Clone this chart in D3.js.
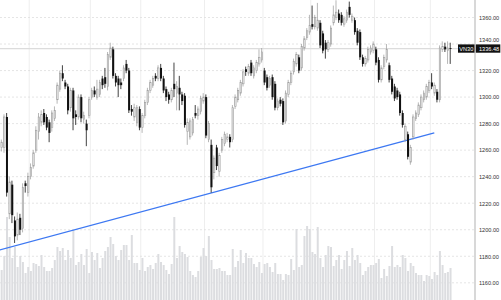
<!DOCTYPE html>
<html>
<head>
<meta charset="utf-8">
<script src="https://cdn.jsdelivr.net/npm/d3@7"></script>
<style>
  html, body { margin: 0; padding: 0; background: #fff; }
  #container { width: 501px; height: 300px; overflow: hidden; }
</style>
</head>
<body>
<div id="container"></div>
<script>
// VN30 daily candles
const opens = [1262,1262,1285,1212,1234,1207,1196,1209,1201,1235,1228,1240,1248,1260,1274,1281,1288,1285,1281,1277,
  1284,1298,1306,1318,1311,1308,1292,1305,1287,1285,1300,1283,1280,1286,1300,1305,1300,1302,1314,1315,
  1308,1330,1336,1316,1314,1311,1314,1325,1320,1291,1285,1281,1291,1277,1286,1296,1305,1309,1316,1314,
  1322,1314,1306,1302,1298,1310,1303,1307,1302,1301,1274,1270,1273,1288,1286,1289,1297,1300,1268,1264,
  1243,1262,1244,1260,1265,1268,1270,1268,1293,1298,1303,1310,1321,1318,1326,1316,1320,1325,1328,1320,
  1315,1309,1315,1310,1292,1298,1297,1282,1302,1311,1319,1325,1330,1322,1337,1345,1349,1355,1353,1352,
  1356,1348,1341,1336,1340,1356,1360,1363,1362,1355,1358,1368,1358,1358,1350,1349,1330,1325,1328,1334,
  1335,1336,1328,1313,1323,1328,1324,1314,1308,1305,1302,1288,1268,1272,1251,1270,1284,1287,1292,1298,
  1300,1305,1311,1303,1304,1298,1336,1338,1335,1337];
const highs = [1268,1287,1288,1240,1237,1210,1213,1212,1235,1237,1243,1250,1260,1278,1288,1290,1291,1287,1283,1290,
  1293,1311,1320,1324,1313,1310,1307,1307,1290,1302,1302,1289,1283,1300,1307,1308,1313,1313,1316,1322,
  1334,1341,1338,1318,1316,1314,1324,1328,1322,1294,1295,1294,1293,1288,1298,1307,1313,1316,1318,1324,
  1325,1316,1308,1304,1307,1326,1312,1316,1304,1303,1284,1284,1285,1294,1293,1301,1303,1302,1282,1268,
  1256,1264,1258,1270,1274,1273,1272,1294,1302,1307,1313,1321,1323,1325,1328,1324,1328,1336,1337,1322,
  1317,1316,1317,1312,1299,1300,1299,1305,1313,1320,1329,1334,1332,1340,1346,1352,1362,1369,1362,1371,
  1358,1350,1343,1343,1354,1369,1373,1366,1364,1361,1366,1372,1363,1360,1352,1351,1332,1331,1338,1339,
  1342,1338,1330,1324,1332,1340,1326,1316,1310,1307,1304,1290,1280,1274,1264,1287,1290,1296,1302,1305,
  1310,1313,1318,1311,1306,1339,1342,1341,1342,1341];
const lows = [1259,1258,1225,1208,1205,1190,1192,1196,1198,1228,1225,1238,1246,1258,1268,1278,1279,1275,1266,1274,
  1282,1295,1304,1312,1306,1287,1289,1275,1279,1283,1281,1280,1263,1284,1298,1300,1298,1300,1306,1307,
  1305,1328,1314,1308,1300,1306,1312,1318,1288,1286,1282,1278,1275,1273,1284,1294,1303,1307,1312,1312,
  1312,1303,1297,1295,1296,1300,1290,1290,1294,1277,1264,1268,1271,1284,1283,1287,1295,1269,1266,1228,
  1238,1245,1240,1258,1263,1266,1262,1266,1291,1296,1301,1308,1316,1316,1316,1314,1318,1323,1326,1309,
  1305,1307,1298,1290,1290,1293,1279,1280,1300,1309,1317,1323,1318,1320,1335,1343,1347,1351,1351,1350,
  1337,1333,1329,1334,1338,1354,1358,1356,1354,1353,1356,1360,1356,1347,1339,1328,1323,1323,1326,1332,
  1333,1324,1311,1311,1321,1326,1311,1302,1297,1298,1286,1277,1266,1253,1249,1268,1282,1285,1290,1296,
  1298,1303,1306,1301,1296,1296,1334,1334,1325,1325];
const closes = [1266,1285,1228,1236,1211,1195,1208,1200,1232,1233,1240,1247,1258,1275,1285,1287,1281,1277,1273,1288,
  1290,1309,1318,1314,1308,1290,1305,1284,1285,1300,1284,1286,1275,1298,1305,1302,1306,1311,1309,1310,
  1332,1337,1316,1311,1309,1309,1322,1320,1290,1289,1292,1292,1277,1286,1296,1305,1311,1314,1314,1322,
  1314,1305,1300,1298,1305,1306,1308,1302,1297,1279,1281,1282,1283,1286,1291,1299,1300,1271,1280,1232,
  1254,1248,1256,1268,1272,1270,1266,1292,1300,1305,1311,1319,1319,1323,1318,1322,1326,1330,1334,1311,
  1307,1314,1300,1292,1297,1295,1281,1303,1311,1318,1327,1332,1320,1338,1344,1350,1354,1353,1360,1358,
  1339,1335,1336,1341,1352,1362,1364,1358,1356,1359,1364,1362,1361,1349,1341,1330,1325,1329,1336,1337,
  1340,1326,1313,1322,1330,1336,1313,1304,1299,1300,1288,1279,1278,1255,1262,1285,1288,1294,1300,1303,
  1308,1311,1308,1309,1298,1337,1338,1336,1337,1336.48];
const volumes = [60,88,166,126,84,106,66,88,76,54,66,58,74,72,68,90,66,58,58,64,80,106,98,104,80,100,84,140,70,76,
  92,70,102,54,96,80,94,64,84,98,106,126,112,88,80,100,110,
  110,80,130,74,74,60,84,58,66,70,62,74,92,76,70,60,52,72,166,84,108,96,92,86,58,50,46,58,86,104,
  88,128,80,62,62,64,58,58,50,50,102,66,78,100,74,94,84,
  84,72,66,76,54,72,74,66,56,74,52,52,40,52,50,82,60,142,66,70,128,148,142,96,92,146,84,66,90,108,
  106,68,80,90,62,80,98,68,104,80,90,74,50,58,66,70,70,
  74,82,44,62,48,68,108,66,70,66,90,84,58,74,68,54,50,50,38,50,48,42,56,50,98,70,54,56,64];

const priceTicks = [1160, 1180, 1200, 1220, 1240, 1260, 1280, 1300, 1320, 1340, 1360];
const monthStarts = [11, 34, 53, 77, 99, 117, 141, 162];
const trendLine = [[-1, 1184.5], [163, 1273]];
const symbol = "VN30";
const lastPrice = 1336.48;

function renderChart() {
    const width = 501;
    const height = 300;
    const axisX = 475;

    const records = opens.map((o, i) => ({i: i, open: o, high: highs[i], low: lows[i], close: closes[i], volume: volumes[i]}));

    const x = d3.scaleBand()
        .domain(d3.range(records.length))
        .range([0, records.length * 2.66])
        .padding(0.25);

    const xc = i => x.step() * (i + 0.5);

    const y = d3.scaleLinear([1160, 1360], [282.8, 17.5]);
    const yVol = d3.scaleLinear([0, 200], [height, 200]);

    const svg = d3.create("svg")
        .attr("width", width)
        .attr("height", height)
        .attr("viewBox", [0, 0, width, height])
        .style("display", "block")
        .style("font-family", "'Liberation Sans', Arial, sans-serif");

    svg.append("rect").attr("width", width).attr("height", height).attr("fill", "#fff");

    // vertical grid (month boundaries)
    svg.append("g")
        .selectAll("line")
        .data(monthStarts)
        .join("line")
        .attr("x1", d => x.step() * d)
        .attr("x2", d => x.step() * d)
        .attr("y1", 0)
        .attr("y2", height)
        .attr("stroke", "#eeeeee")
        .attr("stroke-width", 1);

    // horizontal dotted grid
    svg.append("g")
        .selectAll("line")
        .data(priceTicks)
        .join("line")
        .attr("x1", 0)
        .attr("x2", axisX)
        .attr("y1", d => y(d))
        .attr("y2", d => y(d))
        .attr("stroke", "#dedede")
        .attr("stroke-dasharray", "2,2")
        .attr("stroke-width", 0.8);

    // volume bars
    svg.append("g")
        .selectAll("rect")
        .data(records)
        .join("rect")
        .attr("x", d => x(d.i))
        .attr("width", x.bandwidth())
        .attr("y", d => yVol(d.volume))
        .attr("height", d => height - yVol(d.volume))
        .attr("fill", "#dcdde0");

    // last price line
    svg.append("line")
        .attr("x1", 0)
        .attr("x2", axisX)
        .attr("y1", y(lastPrice))
        .attr("y2", y(lastPrice))
        .attr("stroke", "#dcdcdc")
        .attr("stroke-width", 1.3);

    // trend line
    const line = d3.line().x(d => xc(d[0])).y(d => y(d[1]));
    svg.append("path")
        .attr("fill", "none")
        .attr("stroke", "#3d78f2")
        .attr("stroke-width", 1.3)
        .attr("d", line(trendLine));

    // candles
    const candle = svg.append("g")
        .selectAll("g")
        .data(records)
        .join("g");

    candle.append("line")
        .attr("x1", d => xc(d.i))
        .attr("x2", d => xc(d.i))
        .attr("y1", d => y(d.high))
        .attr("y2", d => y(d.low))
        .attr("stroke", d => d.close >= d.open ? "#a5a5a5" : "#111")
        .attr("stroke-width", 0.8);

    candle.append("rect")
        .attr("x", d => d.close >= d.open ? x(d.i) + 0.3 : x(d.i))
        .attr("width", d => d.close >= d.open ? x.bandwidth() - 0.6 : x.bandwidth())
        .attr("y", d => y(Math.max(d.open, d.close)))
        .attr("height", d => Math.max(0.8, Math.abs(y(d.open) - y(d.close))))
        .attr("fill", d => d.close >= d.open ? "#ececec" : "#111")
        .attr("stroke", d => d.close >= d.open ? "#9c9c9c" : "none")
        .attr("stroke-width", 0.6);

    // right price axis
    svg.append("rect")
        .attr("x", axisX)
        .attr("y", 0)
        .attr("width", width - axisX)
        .attr("height", height)
        .attr("fill", "#fff");

    const ly = y(lastPrice);

    svg.append("g")
        .attr("transform", `translate(${axisX},0)`)
        .call(d3.axisRight(y).tickValues(priceTicks).tickFormat(d => d.toFixed(2)).tickSize(0).tickPadding(4))
        .call(g => g.select(".domain").remove())
        .call(g => g.selectAll("text")
            .attr("font-size", 5.6)
            .attr("font-family", "'Liberation Sans', Arial, sans-serif")
            .attr("fill", "#333"))
        // the 1340 label sits just above the last-price box
        .call(g => g.selectAll(".tick")
            .filter(d => Math.abs(y(d) - ly) < 8)
            .select("text")
            .attr("dy", "-0.45em"));

    svg.append("line")
        .attr("x1", axisX)
        .attr("x2", axisX)
        .attr("y1", 0)
        .attr("y2", height)
        .attr("stroke", "#c8c8c8")
        .attr("stroke-width", 1.4);

    // symbol + last price labels
    svg.append("rect")
        .attr("x", 458)
        .attr("y", ly - 4.3)
        .attr("width", 16.5)
        .attr("height", 8.3)
        .attr("fill", "#111");
    svg.append("text")
        .attr("x", 466.3)
        .attr("y", ly)
        .attr("dy", "0.35em")
        .attr("text-anchor", "middle")
        .attr("font-size", 5.6)
        .attr("fill", "#fff")
        .text(symbol);

    svg.append("rect")
        .attr("x", axisX + 0.8)
        .attr("y", ly - 4.3)
        .attr("width", 24.5)
        .attr("height", 8.3)
        .attr("fill", "#111");
    svg.append("text")
        .attr("x", axisX + 4)
        .attr("y", ly)
        .attr("dy", "0.35em")
        .attr("font-size", 5.6)
        .attr("fill", "#fff")
        .text(lastPrice.toFixed(2));

    document.getElementById("container").append(svg.node());
}

renderChart();
</script>
</body>
</html>
